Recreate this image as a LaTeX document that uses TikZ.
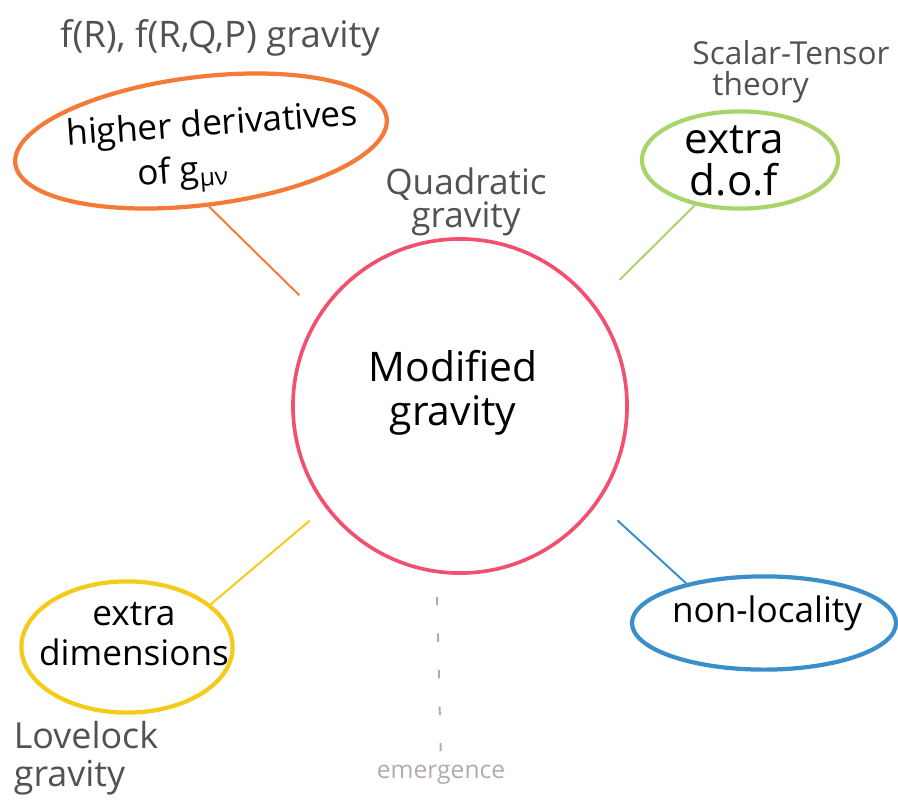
\documentclass[tikz,border=0pt]{standalone}
\usepackage{fontspec}
\setmainfont{Open Sans}
\usetikzlibrary{shapes.geometric}
\definecolor{hubred}{HTML}{F2506E}
\definecolor{hdorange}{HTML}{F47A38}
\definecolor{dofgreen}{HTML}{A9D46C}
\definecolor{dimyellow}{HTML}{F5CB1A}
\definecolor{nlblue}{HTML}{3A8FCB}
\definecolor{labelgray}{HTML}{525252}
\definecolor{faintgray}{HTML}{B3ABAB}
\tikzset{
  hub/.style={circle, draw=hubred, line width=2.6pt, minimum size=8.35cm, inner sep=0pt},
  topic/.style={ellipse, line width=3pt, inner sep=0pt},
  topictext/.style={align=center, inner sep=0pt},
  link/.style={line width=1.4pt},
  tag/.style={text=labelgray, align=center, inner sep=0pt},
}
\begin{document}
\begin{tikzpicture}[x=0.025cm, y=-0.025cm]
\useasboundingbox (0,0) rectangle (898,808);

% central theme
\node[hub] (mg) at (460,406) {};
\node[topictext, font=\fontsize{29}{31}\selectfont] (mgtext) at (453,393) {Modified\\gravity};

% branches: outlines
\node[topic, draw=hdorange, minimum width=9.35cm, minimum height=3.2cm, rotate=7]
  (hd) at (201,141) {};
\node[topic, draw=dofgreen, minimum width=4.9cm, minimum height=2.43cm]
  (dof) at (740,160) {};
\node[topic, draw=dimyellow, minimum width=5.28cm, minimum height=3.28cm]
  (dim) at (127,647) {};
\node[topic, draw=nlblue, minimum width=6.6cm, minimum height=2.33cm]
  (nl) at (764,623) {};

% branches: texts
\node[topictext, align=left, rotate=4, font=\fontsize{25}{32}\selectfont] (hdtext) at (214,150)
  {higher derivatives\\\hspace*{1.7cm}of g\textsubscript{μν}};
\node[topictext, font=\fontsize{30}{30}\selectfont] (doftext) at (734,161) {extra\\d.o.f};
\node[topictext, font=\fontsize{25}{29}\selectfont] (dimtext) at (134,634) {extra\\dimensions};
\node[topictext, font=\fontsize{25}{30}\selectfont] (nltext) at (767,613) {non-locality};

% example theories
\node[tag, font=\fontsize{26}{30}\selectfont] (fr) at (220,38) {f(R), f(R,Q,P) gravity};
\node[tag, font=\fontsize{25}{21}\selectfont] (quad) at (466,202) {Quadratic\\gravity};
\node[tag, align=left, font=\fontsize{22.5}{22}\selectfont] (st) at (791,72) {Scalar-Tensor\\\hspace*{0.5cm}theory};
\node[tag, align=left, font=\fontsize{25.5}{27}\selectfont] (ll) at (86,758) {Lovelock\\gravity};
\node[tag, text=faintgray, font=\fontsize{17.5}{22}\selectfont] (emg) at (441,775) {emergence};

% connectors
\draw[link, hdorange, shorten >=0.67cm] (hd.south) -- (mg.147);
\draw[link, dofgreen, shorten >=0.87cm] (dof.225) -- (mg.37.5);
\draw[link, dimyellow, shorten >=0.5cm] (dim.27) -- (mg.217);
\draw[link, nlblue, shorten <=0.65cm] (mg.-35.5) -- (nl.153);
\draw[link, faintgray, dash pattern=on 6pt off 20pt, shorten <=0.59cm, shorten >=0.35cm]
  (mg.262.4) -- (emg.north);
\end{tikzpicture}
\end{document}
